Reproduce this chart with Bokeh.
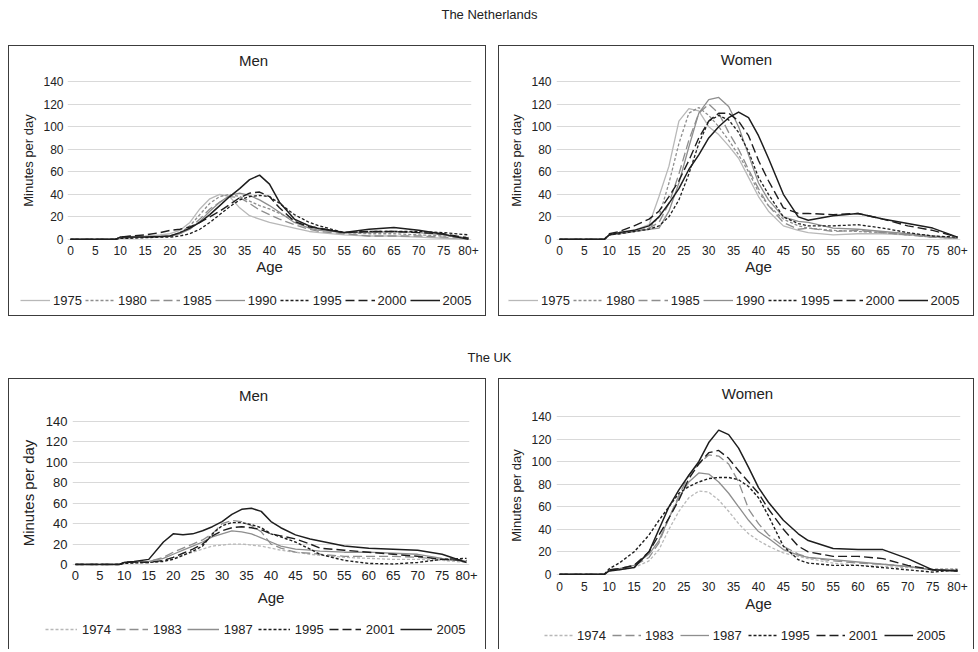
from bokeh.plotting import figure
from bokeh.models import Range1d, FixedTicker, Legend, LegendItem, Label
from bokeh.layouts import column, row
from bokeh.embed import file_html
from bokeh.resources import INLINE

FONT = "Liberation Sans"

# ---------------- data ----------------
AGES = [0, 9, 10, 12, 15, 18, 20, 22, 24, 26, 28, 30, 32, 34, 36, 38, 40, 42, 45, 48, 50, 55, 60, 65, 70, 75, 80]
X_TICKS = [0, 5, 10, 15, 20, 25, 30, 35, 40, 45, 50, 55, 60, 65, 70, 75, 80]
X_TICK_LABELS = {80: "80+"}
Y_TICKS = [0, 20, 40, 60, 80, 100, 120, 140]

NL_YEARS = ["1975", "1980", "1985", "1990", "1995", "2000", "2005"]
UK_YEARS = ["1974", "1983", "1987", "1995", "2001", "2005"]

NL_MEN_1975 = [0, 0, 2, 2.5, 3, 4, 5, 8, 15, 27, 36, 40, 38, 28, 21, 18, 15, 13, 10, 7, 6, 4, 3, 3, 2, 1, 0]
NL_MEN_1980 = [0, 0, 1, 1.5, 2, 2.5, 3, 6, 12, 22, 32, 38, 40, 38, 34, 30, 27, 23, 17, 12, 10, 6, 5, 5, 4, 3, 2]
NL_MEN_1985 = [0, 0, 1, 1.5, 2, 2, 3, 5, 10, 18, 27, 33, 38, 37, 32, 26, 22, 18, 13, 9, 7, 5, 3, 3, 3, 2, 1]
NL_MEN_1990 = [0, 0, 1, 1.5, 2, 2.5, 3, 5, 9, 16, 25, 33, 39, 41, 39, 35, 30, 24, 15, 10, 8, 6, 6, 7, 6, 4, 1]
NL_MEN_1995 = [0, 0, 1, 1, 1.5, 2, 2, 3, 5, 9, 15, 22, 29, 35, 38, 39, 38, 32, 22, 15, 12, 6, 7, 7, 7, 6, 4]
NL_MEN_2000 = [0, 0, 2, 3, 4, 6, 8, 9, 11, 15, 20, 25, 31, 37, 41, 42, 38, 28, 16, 11, 10, 6, 7, 7, 6, 5, 1]
NL_MEN_2005 = [0, 0, 2, 2, 2, 2.5, 3, 6, 10, 15, 22, 30, 38, 45, 53, 57, 49, 33, 18, 12, 9.5, 6, 9, 10.5, 8, 4.5, 0]

NL_WOMEN_1975 = [0, 0, 4, 5, 8, 13, 38, 65, 105, 116, 114, 100, 93, 83, 72, 55, 38, 25, 12, 8, 6, 4, 5, 5, 4, 2, 1]
NL_WOMEN_1980 = [0, 0, 4, 5, 7, 10, 20, 50, 85, 112, 117, 110, 100, 88, 75, 60, 42, 30, 18, 12, 10, 8, 7, 6, 4, 2, 1]
NL_WOMEN_1985 = [0, 0, 4, 5, 7, 10, 15, 32, 58, 88, 112, 120, 112, 95, 80, 62, 45, 30, 15, 9, 10, 7, 8, 6, 4, 2, 1]
NL_WOMEN_1990 = [0, 0, 4, 5, 7, 9, 10, 25, 50, 82, 112, 124, 126, 118, 100, 75, 50, 35, 20, 16, 15, 10, 9, 7, 5, 3, 1]
NL_WOMEN_1995 = [0, 0, 4, 5, 7, 9, 12, 20, 35, 58, 85, 105, 110, 106, 95, 78, 55, 40, 20, 14, 12, 12, 13, 10, 6, 3, 2]
NL_WOMEN_2000 = [0, 0, 5, 7, 12, 18, 25, 38, 52, 70, 90, 105, 112, 112, 105, 92, 70, 52, 28, 23, 23, 22, 23, 18, 12, 8, 2]
NL_WOMEN_2005 = [0, 0, 4, 6, 8, 12, 20, 32, 45, 62, 75, 90, 100, 108, 113, 108, 92, 72, 40, 20, 17, 21, 23, 18, 14, 10, 2]

UK_MEN_1974 = [0, 0, 1, 1.5, 2, 4, 6, 9, 12, 15, 18, 19, 20, 20, 19, 18, 16, 14, 12, 10, 9, 7, 6, 5, 5, 4, 2]
UK_MEN_1983 = [0, 0, 2, 2.5, 3, 7, 12, 16, 20, 24, 30, 40, 43, 42, 38, 32, 20, 16, 12, 11, 10, 8, 8, 8, 7, 5, 3]
UK_MEN_1987 = [0, 0, 2, 2.5, 3, 6, 10, 14, 18, 22, 27, 30, 33, 32, 30, 26, 22, 18, 15, 14, 13, 12, 12, 11, 10, 6, 3]
UK_MEN_1995 = [0, 0, 1, 1.5, 2, 3, 5, 9, 13, 18, 30, 38, 41, 41, 39, 36, 30, 27, 22, 15, 10, 4, 1, 0.5, 2, 5, 6]
UK_MEN_2001 = [0, 0, 2, 2.5, 2, 4, 7, 11, 15, 20, 28, 33, 36, 37, 36, 34, 30, 28, 25, 20, 16, 14, 12, 10, 8, 5, 4]
UK_MEN_2005 = [0, 0, 2, 3, 5, 22, 30, 29, 30, 33, 37, 42, 49, 54, 55, 52, 42, 36, 29, 25, 23, 18, 16, 15, 14, 10, 2]

UK_WOMEN_1974 = [0, 0, 3, 4, 6, 12, 22, 40, 56, 68, 74, 73, 66, 56, 45, 36, 30, 25, 19, 16, 14, 10, 8, 7, 6, 5, 5]
UK_WOMEN_1983 = [0, 0, 4, 5, 8, 15, 28, 50, 70, 88, 98, 106, 105, 98, 82, 58, 45, 35, 25, 18, 15, 12, 10, 9, 7, 4, 3]
UK_WOMEN_1987 = [0, 0, 4, 5, 8, 18, 30, 50, 68, 82, 90, 89, 82, 72, 60, 48, 38, 32, 22, 17, 15, 13, 11, 9, 7, 4, 4]
UK_WOMEN_1995 = [0, 0, 5, 10, 20, 35, 48, 60, 72, 78, 82, 85, 86, 86, 84, 78, 68, 52, 25, 13, 10, 8, 8, 6, 4, 2, 4]
UK_WOMEN_2001 = [0, 0, 4, 5, 8, 20, 35, 50, 66, 85, 98, 108, 110, 103, 92, 82, 72, 58, 40, 25, 20, 16, 16, 14, 8, 4, 3]
UK_WOMEN_2005 = [0, 0, 3, 4, 6, 20, 40, 60, 75, 88, 100, 117, 128, 124, 112, 95, 77, 64, 48, 36, 30, 23, 22, 22, 14, 4, 3]

NL_MEN = [NL_MEN_1975, NL_MEN_1980, NL_MEN_1985, NL_MEN_1990, NL_MEN_1995, NL_MEN_2000, NL_MEN_2005]
NL_WOMEN = [NL_WOMEN_1975, NL_WOMEN_1980, NL_WOMEN_1985, NL_WOMEN_1990, NL_WOMEN_1995, NL_WOMEN_2000, NL_WOMEN_2005]
UK_MEN = [UK_MEN_1974, UK_MEN_1983, UK_MEN_1987, UK_MEN_1995, UK_MEN_2001, UK_MEN_2005]
UK_WOMEN = [UK_WOMEN_1974, UK_WOMEN_1983, UK_WOMEN_1987, UK_WOMEN_1995, UK_WOMEN_2001, UK_WOMEN_2005]

# ---------------- styles ----------------
LIGHT = "#b8b8b8"
MID = "#8e8e8e"
DARK = "#1e1e1e"
SHORT = "3 2"
LONG = "9 4"
NL_STYLES = [(LIGHT, "solid", 1.3), (MID, SHORT, 1.3), (MID, LONG, 1.3), (MID, "solid", 1.3),
             (DARK, SHORT, 1.3), (DARK, LONG, 1.4), (DARK, "solid", 1.5)]
UK_STYLES = [(LIGHT, SHORT, 1.3), (MID, LONG, 1.3), (MID, "solid", 1.3),
             (DARK, SHORT, 1.4), (DARK, LONG, 1.4), (DARK, "solid", 1.5)]

BORDER = "1px solid #3c3c3c"


def strip(width, height, css, gap):
    f = figure(width=width, height=height, toolbar_location=None, output_backend="svg",
               x_range=Range1d(0, width), y_range=Range1d(0, height), min_border=0,
               margin=(0, 0, 0, gap), frame_align=False, styles=css)
    f.outline_line_color = None
    f.axis.visible = False
    f.grid.visible = False
    return f


def make_panel(title, years, series, styles, cfg):
    w, gap = cfg["w"], cfg["left_gap"]

    # title strip
    tf = strip(w, cfg["th"], {"border": BORDER, "border-bottom": "none"}, gap)
    tf.add_layout(Label(x=cfg["title_x"], y=cfg["th"] - cfg["title_cy"], text=title,
                        text_align="center", text_baseline="middle", text_font=FONT,
                        text_font_size="15px", text_color="#222222"))

    # chart
    p = figure(width=w, height=cfg["h"], toolbar_location=None, output_backend="svg",
               x_range=Range1d(-0.6, 80.6), y_range=Range1d(-1, 141),
               min_border_left=cfg["ml"], min_border_right=cfg["mr"],
               min_border_top=cfg["mt"], min_border_bottom=cfg["mb"],
               margin=(0, 0, 0, gap), frame_align=False,
               styles={"border-left": BORDER, "border-right": BORDER})
    p.outline_line_color = None
    p.xgrid.visible = False
    p.ygrid.grid_line_color = "#d9d9d9"
    p.ygrid.grid_line_width = 1

    for ax in (p.xaxis[0], p.yaxis[0]):
        ax.axis_line_color = None
        ax.major_tick_line_color = None
        ax.minor_tick_line_color = None
        ax.major_tick_out = 0
        ax.major_tick_in = 0
        ax.major_label_text_font = FONT
        ax.major_label_text_color = "#222222"
        ax.axis_label_text_font = FONT
        ax.axis_label_text_font_style = "normal"
        ax.axis_label_text_color = "#222222"

    xa = p.xaxis[0]
    xa.ticker = FixedTicker(ticks=X_TICKS)
    xa.major_label_overrides = X_TICK_LABELS
    xa.axis_label = "Age"
    xa.major_label_text_font_size = cfg["tick_fs"]
    xa.axis_label_text_font_size = "15px"
    xa.major_label_standoff = cfg["x_ls"]
    xa.axis_label_standoff = cfg["x_as"]

    ya = p.yaxis[0]
    ya.ticker = FixedTicker(ticks=Y_TICKS)
    ya.axis_label = "Minutes per day"
    ya.major_label_text_font_size = cfg["tick_fs"]
    ya.axis_label_text_font_size = cfg["ylab_fs"]
    ya.major_label_standoff = cfg["y_ls"]
    ya.axis_label_standoff = cfg["y_as"]

    for vals, (col, dash, lw) in zip(series, styles):
        p.line(AGES, vals, line_color=col, line_dash=dash, line_width=lw, line_join="round")

    # legend strip (legend keys only; their samples lie outside the strip's ranges)
    css = {"border": BORDER, "border-top": "none"}
    if not cfg["bottom_border"]:
        css["border-bottom"] = "none"
    lf = strip(w, cfg["lh"], css, gap)
    items = []
    for yr, (col, dash, lw) in zip(years, styles):
        r = lf.line(x=[-50, -40], y=[-50, -50], line_color=col, line_dash=dash, line_width=lw)
        items.append(LegendItem(label=yr, renderers=[r]))
    leg = Legend(items=items, orientation="horizontal", location=cfg["leg_loc"],
                 glyph_width=cfg["gw"], glyph_height=16, label_standoff=cfg["lso"],
                 spacing=cfg["lsp"], padding=0, margin=0, border_line_color=None,
                 background_fill_alpha=0, label_text_font=FONT, label_text_font_size="13px",
                 label_text_color="#222222", label_height=16)
    lf.add_layout(leg, "center")
    return column(tf, p, lf, spacing=0)


def section_title(text, height, cy):
    t = strip(978, height, {}, 0)
    t.add_layout(Label(x=489, y=height - cy, text=text, text_align="center", text_baseline="middle",
                       text_font=FONT, text_font_size="13px", text_color="#222222"))
    return t


NL_MEN_CFG = dict(w=478, th=24, h=212, lh=35, ml=58, mr=16, mt=11, mb=41, left_gap=8, bottom_border=True,
                  title_x=244, title_cy=14, tick_fs="12px", ylab_fs="13px", x_ls=5, x_as=0, y_ls=4, y_as=4,
                  leg_loc=(11, 8), gw=30, lso=3, lsp=3)
NL_WOMEN_CFG = dict(w=476, th=24, h=212, lh=35, ml=57, mr=15, mt=11, mb=41, left_gap=12, bottom_border=True,
                    title_x=247, title_cy=13, tick_fs="12px", ylab_fs="13px", x_ls=5, x_as=0, y_ls=5, y_as=4,
                    leg_loc=(9, 8), gw=30, lso=3, lsp=3)
UK_MEN_CFG = dict(w=478, th=28, h=212, lh=31, ml=63, mr=18, mt=14, mb=53, left_gap=8, bottom_border=False,
                  title_x=244, title_cy=16, tick_fs="13px", ylab_fs="15px", x_ls=5, x_as=6, y_ls=5, y_as=6,
                  leg_loc=(36, 12), gw=32, lso=5, lsp=5)
UK_WOMEN_CFG = dict(w=476, th=24, h=218, lh=29, ml=57, mr=15, mt=13, mb=45, left_gap=12, bottom_border=False,
                    title_x=248, title_cy=14, tick_fs="12px", ylab_fs="13px", x_ls=6, x_as=1, y_ls=5, y_as=4,
                    leg_loc=(45, 6), gw=29, lso=4, lsp=6)

c1 = make_panel("Men", NL_YEARS, NL_MEN, NL_STYLES, NL_MEN_CFG)
c2 = make_panel("Women", NL_YEARS, NL_WOMEN, NL_STYLES, NL_WOMEN_CFG)
c3 = make_panel("Men", UK_YEARS, UK_MEN, UK_STYLES, UK_MEN_CFG)
c4 = make_panel("Women", UK_YEARS, UK_WOMEN, UK_STYLES, UK_WOMEN_CFG)

t1 = section_title("The Netherlands", 45, 14)
t2 = section_title("The UK", 62, 41)

layout = column(t1, row(c1, c2, spacing=0), t2, row(c3, c4, spacing=0), spacing=0)

open("out.html", "w").write(file_html(layout, INLINE))
